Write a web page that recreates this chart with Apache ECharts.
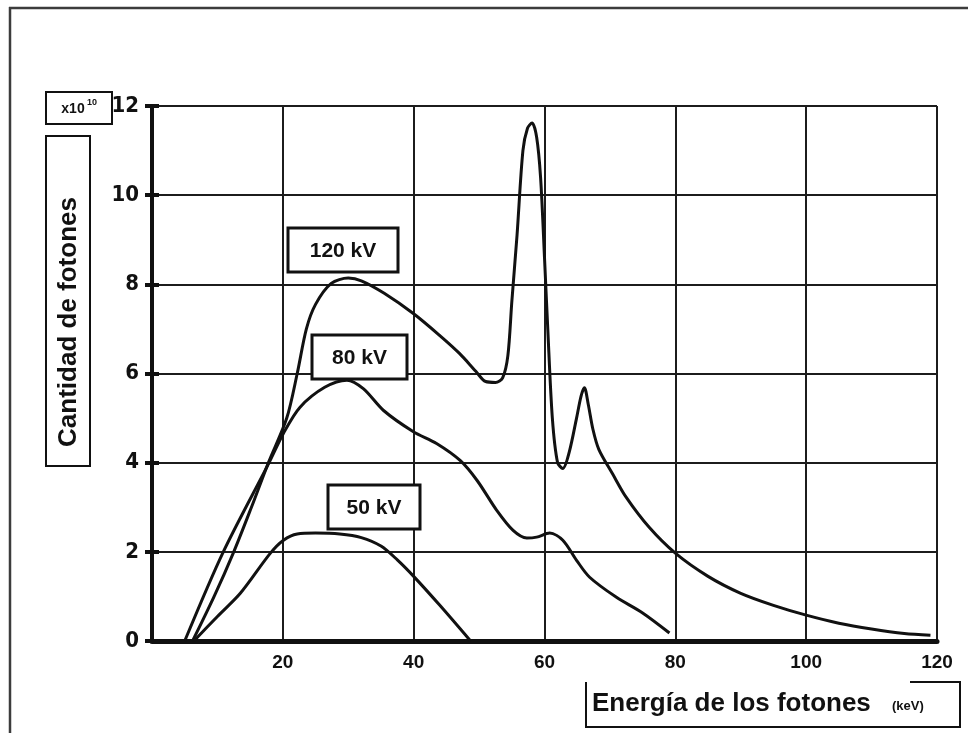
<!DOCTYPE html>
<html>
<head>
<meta charset="utf-8">
<title>Cantidad de fotones</title>
<script src="https://cdn.jsdelivr.net/npm/echarts@6/dist/echarts.min.js"></script>
<style>
    html, body { margin: 0; padding: 0; background: #fff; }
    #chart { width: 968px; height: 733px; }
</style>
</head>
<body>
<div id="chart"></div>
<script>
/*data (energy in keV, photons x10^10)*/
const xTicks = [0, 20, 40, 60, 80, 100, 120];
const yTicks = [0, 2, 4, 6, 8, 10, 12];

const energy120 = [6.2, 9.5, 12.5, 15.2, 17.8, 20.6, 22.2, 23.6, 25, 27.4, 30, 32, 35.5, 40, 44, 47, 49.5, 51, 52.5, 53.6, 54.4, 55, 55.8, 56.7, 57.4, 58.1, 58.8, 59.4, 60, 60.5, 61.2, 62, 62.8, 63.8, 64.9, 65.6, 66.1, 66.7, 67.4, 68.3, 70.4, 72.5, 76, 80, 85, 90, 95, 100, 105, 110, 115, 119];
const count120 = [0, 1.0, 2.0, 3.0, 4.0, 5.0, 6.0, 7.0, 7.55, 8.02, 8.14, 8.08, 7.8, 7.34, 6.85, 6.45, 6.05, 5.82, 5.8, 5.9, 6.4, 7.6, 9.1, 11.0, 11.5, 11.62, 11.3, 10.4, 8.6, 7.0, 5.0, 4.0, 3.87, 4.25, 5.0, 5.5, 5.68, 5.3, 4.75, 4.3, 3.75, 3.22, 2.55, 1.97, 1.45, 1.07, 0.8, 0.58, 0.4, 0.27, 0.17, 0.13];

const energy80 = [5, 10.9, 17.9, 20.1, 22.6, 26.4, 29.8, 32.3, 35.4, 39.9, 43.5, 47.1, 49.7, 52.7, 55.2, 57.3, 58.8, 60.8, 62.8, 64.9, 66.9, 71, 75, 79.1];
const count80 = [0, 2.0, 4.0, 4.66, 5.24, 5.69, 5.85, 5.66, 5.17, 4.7, 4.43, 4.05, 3.6, 2.93, 2.48, 2.31, 2.33, 2.42, 2.26, 1.81, 1.43, 0.98, 0.63, 0.18];

const energy50 = [6.4, 10, 13.5, 18.1, 20.1, 22.2, 25, 28.7, 32, 35, 37.5, 40, 44, 48.7];
const count50 = [0, 0.55, 1.07, 1.97, 2.26, 2.4, 2.42, 2.4, 2.32, 2.13, 1.82, 1.45, 0.8, 0];

const seriesNames = ['120 kV', '80 kV', '50 kV'];

/*chart*/
(function () {
    const el = document.getElementById('chart');
    const chart = echarts.init(el, null, { renderer: 'canvas' });
    const ink = '#111';
    const frame = '#3c3c3c';
    const sans = 'Liberation Sans, Arial, sans-serif';
    const narrow = 'Liberation Sans Narrow, DejaVu Sans Condensed, sans-serif';

    function pairs(xs, ys) {
        return xs.map(function (x, i) { return [x, ys[i]]; });
    }

    function curve(name, xs, ys) {
        return {
            name: name,
            type: 'line',
            data: pairs(xs, ys),
            smooth: 0.3,
            showSymbol: false,
            silent: true,
            lineStyle: { color: ink, width: 3 },
            z: 3
        };
    }

    function box(x, y, w, h, lw) {
        return {
            type: 'rect',
            shape: { x: x, y: y, width: w, height: h },
            style: { fill: '#fff', stroke: ink, lineWidth: lw },
            z: 10
        };
    }

    function label(text, x, y, size, extra) {
        return Object.assign({
            type: 'text',
            x: x,
            y: y,
            style: {
                text: text,
                fill: ink,
                font: 'bold ' + size + 'px ' + sans,
                align: 'center',
                verticalAlign: 'middle'
            },
            z: 11
        }, extra || {});
    }

    function leftText(text, x, y, size) {
        return {
            type: 'text',
            x: x,
            y: y,
            style: {
                text: text,
                fill: ink,
                font: 'bold ' + size + 'px ' + sans,
                align: 'left',
                verticalAlign: 'bottom'
            },
            z: 11
        };
    }

    function seg(x1, y1, x2, y2, lw, color) {
        return {
            type: 'line',
            shape: { x1: x1, y1: y1, x2: x2, y2: y2 },
            style: { stroke: color || ink, lineWidth: lw },
            z: 10
        };
    }

    const option = {
        animation: false,
        backgroundColor: '#fff',
        grid: { left: 152, right: 31, top: 106, bottom: 92 },
        xAxis: {
            type: 'value',
            min: xTicks[0],
            max: xTicks[xTicks.length - 1],
            interval: xTicks[1] - xTicks[0],
            axisLine: { show: true, onZero: false, lineStyle: { color: ink, width: 5 } },
            axisTick: { show: false },
            axisLabel: {
                margin: 12,
                color: ink,
                fontFamily: sans,
                fontWeight: 'bold',
                fontSize: 19,
                formatter: function (v) { return v === 0 ? '' : String(v); }
            },
            splitLine: { show: true, lineStyle: { color: '#1c1c1c', width: 2 } }
        },
        yAxis: [{
            type: 'value',
            min: yTicks[0],
            max: yTicks[yTicks.length - 1],
            interval: yTicks[1] - yTicks[0],
            axisLine: { show: true, lineStyle: { color: ink, width: 4 } },
            axisTick: { show: true, length: 7, lineStyle: { color: ink, width: 4 } },
            axisLabel: {
                margin: 13,
                color: ink,
                fontFamily: narrow,
                fontWeight: 'bold',
                fontSize: 22
            },
            splitLine: { show: true, lineStyle: { color: '#1c1c1c', width: 2 } }
        }, {
            // second copy only for the inward half of the ticks
            type: 'value',
            position: 'left',
            min: yTicks[0],
            max: yTicks[yTicks.length - 1],
            interval: yTicks[1] - yTicks[0],
            axisLine: { show: false },
            axisTick: { show: true, inside: true, length: 7, lineStyle: { color: ink, width: 4 } },
            axisLabel: { show: false },
            splitLine: { show: false }
        }],
        series: [
            curve(seriesNames[0], energy120, count120),
            curve(seriesNames[1], energy80, count80),
            curve(seriesNames[2], energy50, count50)
        ],
        graphic: [
            /*outer frame*/
            seg(9, 8, 968, 8, 2.5, frame),
            seg(10, 7, 10, 733, 2.5, frame),

            /*axis titles*/
            box(46, 92, 66, 32, 2),
            label('x10', 73, 109, 14),
            label('10', 92, 103, 9),
            box(46, 136, 44, 330, 2),
            label('Cantidad de fotones', 69, 322, 26, { rotation: Math.PI / 2 }),

            seg(586, 682, 586, 727, 2),
            seg(585, 727, 961, 727, 2),
            seg(960, 682, 960, 727, 2),
            seg(910, 682, 961, 682, 2),
            leftText('Energía de los fotones', 592, 717, 26),
            leftText('(keV)', 892, 713, 13),

            /*series labels*/
            box(288, 228, 110, 44, 3),
            label(seriesNames[0], 343, 251, 21),
            box(312, 335, 95, 44, 3),
            label(seriesNames[1], 359.5, 358, 21),
            box(328, 485, 92, 44, 3),
            label(seriesNames[2], 374, 508, 21)
        ]
    };

    chart.setOption(option);

    window.addEventListener('resize', chart.resize.bind(chart));
})();
</script>
</body>
</html>
